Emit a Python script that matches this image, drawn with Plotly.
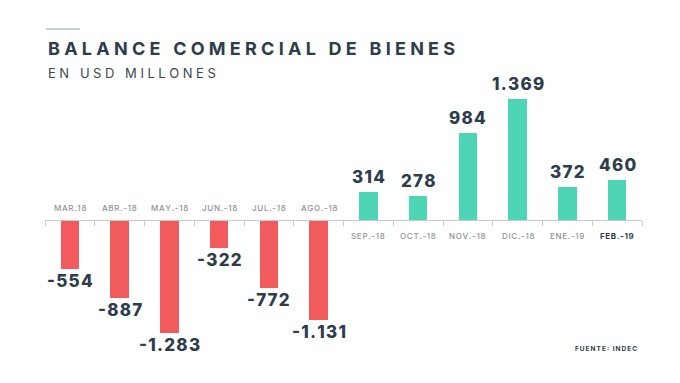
import plotly.graph_objects as go

# ---- data ----
categories = ["MAR.18", "ABR.-18", "MAY.-18", "JUN.-18", "JUL.-18", "AGO.-18",
              "SEP.-18", "OCT.-18", "NOV.-18", "DIC.-18", "ENE.-19", "FEB.-19"]
values = [-554, -887, -1283, -322, -772, -1131, 314, 278, 984, 1369, 372, 460]
title_text = "BALANCE COMERCIAL DE BIENES"
subtitle_text = "EN USD MILLONES"
source_text = "FUENTE: INDEC"

# ---- style ----
RED = "#F15B5D"
TEAL = "#4DD5B6"
DARK = "#2E3C4C"
GRAY = "#8E9296"
FONT = "Inter, Lato, 'Open Sans', sans-serif"

W, H = 680, 383
ML, MR, MT, MB = 45, 38, 84, 39
PH = H - MT - MB
Y_MIN, Y_MAX = -1409, 1545


def spaced(s, sep="\u200a"):
    return sep.join(list(s))


def fmt(v):
    return f"{v:,}".replace(",", ".")


def py(pix):  # figure pixel y -> paper y
    return (H - MB - pix) / PH


def px(pix):  # figure pixel x -> paper x
    return (pix - ML) / (W - ML - MR)


colors = [RED if v < 0 else TEAL for v in values]

fig = go.Figure()
fig.add_trace(go.Bar(
    x=categories, y=values, marker=dict(color=colors, line=dict(width=0)),
    width=0.37, hoverinfo="skip",
))

annotations = []
for c, v in zip(categories, values):
    # value labels
    annotations.append(dict(
        x=c, y=v, xref="x", yref="y", text=spaced(fmt(v), "\u200a"),
        showarrow=False, font=dict(family=FONT, size=17, color=DARK, weight=800),
        yanchor="bottom" if v > 0 else "top",
        yshift=3 if v > 0 else 0,
    ))
    # category labels
    last = c == categories[-1]
    annotations.append(dict(
        x=c, y=0, xref="x", yref="y", text=spaced(c, "\u200a"),
        showarrow=False,
        font=dict(family=FONT, size=8, color=DARK if last else GRAY,
                  weight=700 if last else 500),
        yanchor="middle",
        yshift=12 if v < 0 else -16,
    ))

annotations += [
    dict(x=px(46), y=py(48), xref="paper", yref="paper", xanchor="left", yanchor="middle",
         text=spaced(title_text, "\u2009\u200a"), showarrow=False,
         font=dict(family=FONT, size=18, color=DARK, weight=700)),
    dict(x=px(46), y=py(73), xref="paper", yref="paper", xanchor="left", yanchor="middle",
         text=spaced(subtitle_text, "\u2009\u200a"), showarrow=False,
         font=dict(family=FONT, size=13, color="#3D4854", weight=400)),
    dict(x=px(639), y=py(349), xref="paper", yref="paper", xanchor="right", yanchor="middle",
         text=spaced(source_text, "\u2009"), showarrow=False,
         font=dict(family=FONT, size=6.5, color=DARK, weight=700)),
]

fig.update_layout(
    width=W, height=H,
    margin=dict(l=ML, r=MR, t=MT, b=MB, pad=0),
    paper_bgcolor="white", plot_bgcolor="white",
    showlegend=False,
    bargap=0,
    annotations=annotations,
    shapes=[dict(type="line", xref="paper", yref="paper",
                 x0=px(46), x1=px(80), y0=py(29), y1=py(29),
                 line=dict(color="#9AA0A6", width=1))],
    xaxis=dict(
        type="category", range=[-0.5, len(categories) - 0.5],
        anchor="free", position=(0 - Y_MIN) / (Y_MAX - Y_MIN),
        showline=True, linecolor="#C8CACC", linewidth=1,
        ticks="outside", tickson="boundaries", ticklen=5, tickcolor="#C8CACC",
        showticklabels=False, showgrid=False, zeroline=False,
    ),
    yaxis=dict(range=[Y_MIN, Y_MAX], visible=False, showgrid=False, zeroline=False),
)
fig.update_traces(cliponaxis=False)

fig.write_html("out.html", config={"displayModeBar": False, "staticPlot": True},
               post_script="document.body.style.margin='0';document.body.style.padding='0';")
